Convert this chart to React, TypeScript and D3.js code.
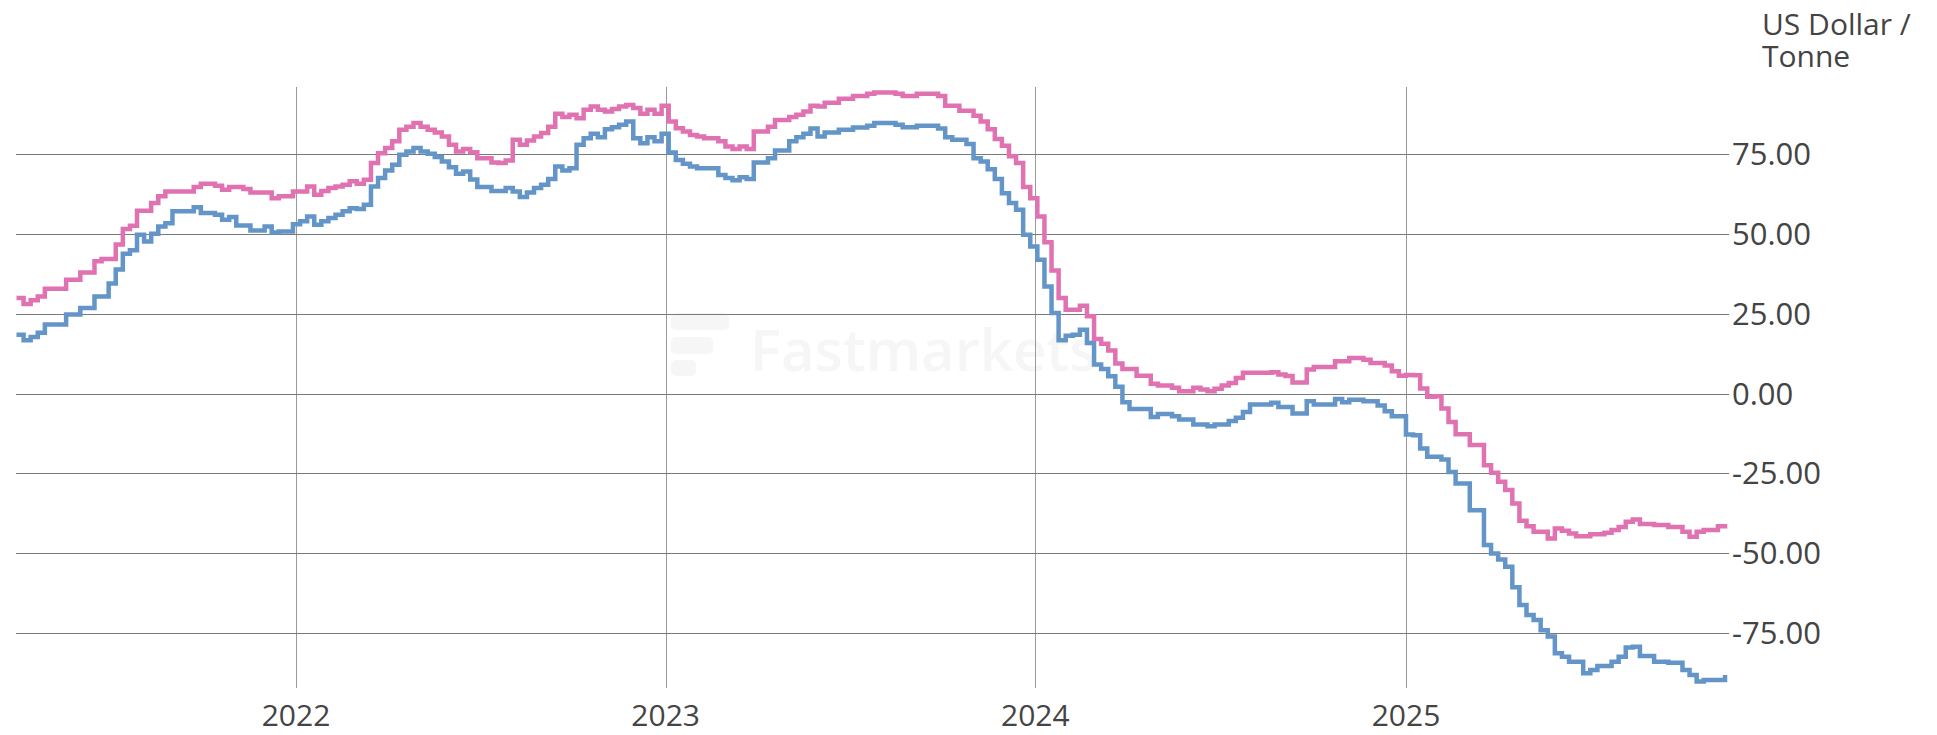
import React from 'react';
import * as d3 from 'd3';

// Weekly assessments, first one on 2021-03-31
const START_DATE = '2021-03-31';

const pinkValues: number[] = [
  29.9, 28.0, 29.2, 30.4, 32.8, 32.8, 32.8, 35.6, 35.6, 37.9, 37.9, 41.4, 42.1, 42.1, 46.6, 51.5,
  52.5, 57.2, 57.2, 59.6, 61.7, 63.2, 63.2, 63.2, 63.2, 64.6, 65.6, 65.6, 65.0, 63.75, 64.6, 64.6,
  64.0, 62.9, 62.9, 62.9, 61.1, 61.7, 61.7, 63.2, 63.2, 64.8, 62.2, 63.4, 64.3, 64.8, 65.3, 66.4,
  65.6, 66.9, 72.1, 75.2, 76.8, 78.9, 82.5, 83.5, 84.6, 83.5, 82.5, 81.7, 80.4, 77.8, 75.7, 76.5,
  75.5,
  73.6, 73.6, 72.3, 72.1, 72.9, 79.4, 77.8, 79.2, 80.4, 81.5, 83.5, 87.5, 86.5, 87.2, 86.1, 88.75,
  89.8, 88.75, 88.2, 89.0, 89.8, 90.3, 89.3, 87.5, 88.75, 87.5, 90.0, 85.1, 83.0, 82.0, 80.9, 80.4,
  79.9, 79.9, 78.9, 77.3, 76.5, 77.3, 76.5, 82.0, 82.0, 83.5, 85.6, 85.6, 86.5, 87.2, 88.2, 90.0,
  89.8, 91.0, 91.0, 92.2, 92.2, 93.1, 93.1, 93.75, 94.2, 94.2, 94.2, 93.75, 93.1, 93.1, 93.75, 93.75,
  93.75, 93.1,
  90.0, 90.0, 88.5, 88.5, 86.9, 85.1, 82.7, 79.6, 77.5, 74.2, 72.1, 64.6, 61.1, 55.4, 47.3, 38.5,
  29.9, 26.25, 26.25, 27.5, 24.2, 17.1, 15.6, 13.5, 9.4, 7.7, 7.7, 5.6, 5.6, 3.1, 2.5, 2.5,
  1.8, 0.7, 0.7, 1.8, 1.25, 0.7, 1.5, 2.5, 3.3, 4.9, 6.5, 6.5, 6.5, 6.5, 6.7, 6.0,
  5.5, 3.5, 3.5, 7.5, 8.3, 8.3, 8.3, 10.1, 10.1, 11.1, 11.1, 10.6, 9.6, 9.6, 8.75, 6.95,
  5.6, 5.8,
  5.7, 1.6, -1.0, -0.8, -4.7, -8.9, -12.7, -12.7, -16.1, -16.1, -22.4, -24.8, -27.6, -30.2, -34.4, -39.8,
  -41.5, -43.2, -43.2, -45.3, -42.2, -42.9, -43.75, -44.6, -44.6, -44.0, -44.0, -43.5, -42.7, -41.7, -40.1, -39.4,
  -40.8, -40.8, -41.1, -41.1, -41.7, -41.7, -43.2, -44.8, -43.2, -42.7, -42.7, -41.5, -42.2,
];

const blueValues: number[] = [
  18.4, 16.7, 17.7, 19.0, 21.6, 21.6, 21.6, 24.7, 24.7, 26.8, 26.8, 30.4, 30.4, 34.4, 38.8, 43.75,
  44.8, 49.7, 47.6, 50.0, 52.3, 53.3, 57.0, 57.0, 57.0, 58.3, 56.5, 56.5, 55.9, 54.4, 55.2, 52.6,
  52.6, 51.0, 51.0, 52.3, 50.4, 50.7, 50.7, 53.0, 53.9, 55.4, 52.8, 53.9, 54.9, 55.9, 57.0, 58.0,
  57.7, 59.1, 64.8, 67.4, 69.8, 71.6, 74.7, 75.7, 76.8, 75.7, 75.0, 74.0, 72.6, 70.8, 68.75, 69.5,
  67.0,
  64.6, 64.6, 63.4, 63.4, 64.3, 63.2, 61.5, 62.9, 64.3, 65.3, 67.1, 71.0, 69.8, 70.5, 77.8, 79.9,
  81.25, 80.2, 82.7, 83.3, 84.1, 85.1, 79.9, 78.3, 80.2, 78.9, 81.25, 75.4, 73.1, 71.9, 71.0, 70.5,
  70.5, 70.5, 68.4, 67.4, 66.7, 67.7, 67.1, 72.3, 72.3, 73.6, 76.0, 76.0, 78.9, 80.2, 81.25, 82.9,
  80.4, 81.7, 81.7, 82.5, 82.5, 83.2, 83.2, 83.75, 84.6, 84.6, 84.6, 84.1, 83.3, 83.3, 83.75, 83.75,
  83.75, 82.9,
  80.2, 79.4, 79.4, 78.1, 73.6, 72.6, 70.2, 67.1, 62.7, 59.6, 57.5, 49.7, 46.0, 41.9, 33.5, 25.2,
  16.7, 18.1, 18.4, 20.0, 15.8, 9.1, 7.7, 5.4, 2.1, -2.7, -4.8, -4.8, -4.8, -7.3, -6.4, -6.4,
  -7.1, -8.1, -8.1, -9.7, -9.7, -10.2, -9.7, -9.7, -8.6, -7.6, -5.8, -3.4, -3.4, -3.4, -2.9, -4.2,
  -4.2, -6.25, -6.25, -2.4, -3.4, -3.4, -3.4, -1.7, -2.7, -1.9, -1.9, -2.4, -2.4, -3.75, -5.5, -7.1,
  -7.1, -12.8,
  -13.0, -17.2, -19.8, -19.8, -20.6, -24.5, -28.1, -28.1, -36.5, -36.5, -47.4, -50.0, -51.9, -54.2, -60.6, -66.1,
  -69.3, -70.8, -74.0, -76.0, -81.25, -82.3, -83.9, -83.9, -87.5, -86.5, -85.2, -85.2, -83.9, -82.3, -79.4, -79.2,
  -82.1, -82.1, -83.9, -83.9, -84.2, -84.2, -86.5, -88.0, -90.1, -89.6, -89.6, -89.6, -88.0,
];

const yTicks = [75, 50, 25, 0, -25, -50, -75];
const xTickYears = [2022, 2023, 2024, 2025];
const unitLines = ['US Dollar /', 'Tonne'];

const WIDTH = 1937;
const HEIGHT = 735;
const FONT = '"Open Sans", "Noto Sans", sans-serif';

const fmt = d3
  .formatLocale({ decimal: '.', thousands: ',', grouping: [3], currency: ['$', ''], minus: '-' })
  .format('.2f');

const App: React.FC = () => {
  const start = d3.timeParse('%Y-%m-%d')(START_DATE) as Date;
  const dates = pinkValues.map((_, i) => d3.timeDay.offset(start, i * 7));

  // plot area
  const left = 16;
  const right = 1729;
  const top = 87;
  const bottom = 688;

  const x = d3
    .scaleTime()
    .domain([dates[0], dates[dates.length - 1]])
    .range([16.5, 1725]);

  const y = d3.scaleLinear().domain([-92.1, 95.9]).range([bottom, top]);

  const line = d3
    .line<number>()
    .x((_, i) => x(dates[i]))
    .y((d) => y(d))
    .curve(d3.curveStepAfter);

  return (
    <svg
      width={WIDTH}
      height={HEIGHT}
      style={{ position: 'absolute', left: 0, top: 0, display: 'block', background: '#fff' }}
      fontFamily={FONT}
    >
      {/* watermark */}
      <g fill="#f6f6f6">
        <rect x={671} y={313} width={58} height={17} rx={5} />
        <rect x={671} y={337} width={42} height={17} rx={5} />
        <rect x={671} y={360} width={25} height={16} rx={5} />
        <text x={750} y={371} fontSize={58} fontWeight={600} fontFamily={FONT}>
          Fastmarkets
        </text>
      </g>

      {/* vertical grid */}
      {xTickYears.map((yr) => {
        const xx = Math.round(x(new Date(yr, 0, 1))) + 0.5;
        return (
          <line key={`vg${yr}`} x1={xx} x2={xx} y1={top} y2={bottom} stroke="#999" strokeWidth={1} />
        );
      })}

      {/* horizontal grid */}
      {yTicks.map((t) => {
        const yy = Math.round(y(t)) + 0.5;
        return (
          <line key={`hg${t}`} x1={left} x2={right} y1={yy} y2={yy} stroke="#7a7a7a" strokeWidth={1} />
        );
      })}

      {/* series */}
      <path d={line(blueValues) || ''} fill="none" stroke="#6495c8" strokeWidth={4.5} />
      <path d={line(pinkValues) || ''} fill="none" stroke="#e072b2" strokeWidth={4.5} />

      {/* y labels */}
      {yTicks.map((t) => (
        <text key={`yl${t}`} x={1732} y={y(t) + 11} fontSize={31} fill="#444">
          {fmt(t)}
        </text>
      ))}

      {/* x labels */}
      {xTickYears.map((yr) => (
        <text
          key={`xl${yr}`}
          x={x(new Date(yr, 0, 1))}
          y={726}
          fontSize={30}
          fill="#444"
          textAnchor="middle"
        >
          {yr}
        </text>
      ))}

      {/* unit title */}
      <text x={1762} y={35} fontSize={30} fill="#444">
        {unitLines.map((s, i) => (
          <tspan key={s} x={1762} dy={i === 0 ? 0 : 32}>
            {s}
          </tspan>
        ))}
      </text>
    </svg>
  );
};

export default App;
